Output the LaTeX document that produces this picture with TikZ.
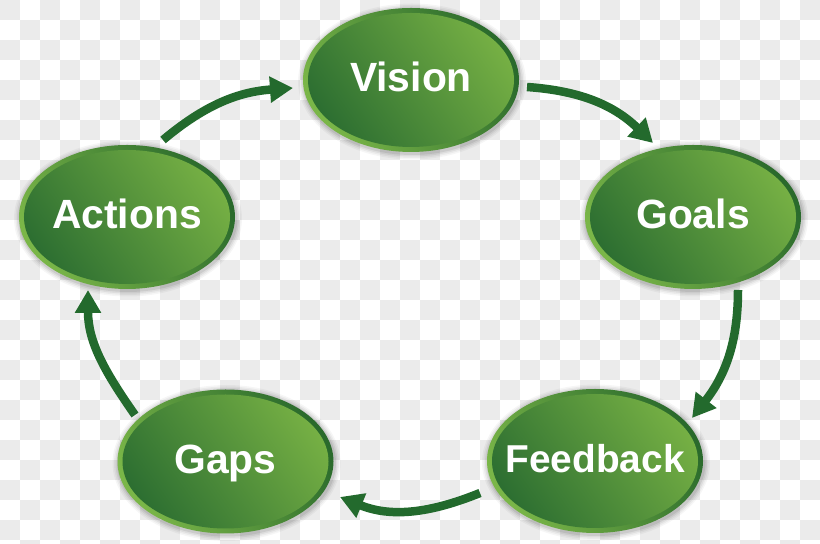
\documentclass[tikz,border=0pt]{standalone}
\usepackage{fontspec}
\setmainfont{Liberation Sans}
\usetikzlibrary{arrows.meta,shapes.geometric}
\definecolor{chk}{HTML}{EBEBEB}
\definecolor{indark}{HTML}{2C6E31}
\definecolor{inlight}{HTML}{76B044}
\definecolor{rimlight}{HTML}{7AB648}
\definecolor{rimdark}{HTML}{2A6A2C}
\definecolor{arrowgreen}{HTML}{236A2D}
\tikzset{
  bubble/.style={ellipse, inner sep=0pt, minimum width=216bp, minimum height=144bp,
    top color=rimdark, bottom color=rimlight, shading angle=-60,
    text=white, font=\bfseries\fontsize{41}{41}\selectfont,
    text height=29.4pt, text depth=6pt,
    path picture={\shade[top color=inlight, bottom color=indark, shading angle=-55]
      (path picture bounding box.center) ellipse (103bp and 67bp);}},
  arr/.style={line width=8.5bp, draw=arrowgreen, -{Triangle[length=23bp,width=25bp]}}
}
\newcommand\mybubble[4][]{%
  \foreach \s/\o in {6/0.035,4.5/0.045,3/0.06,1.5/0.08}{%
    \fill[black,opacity=\o] ([shift={(1,-1.5)}]#3) ellipse ({108+\s} and {72+\s});}
  \node[bubble,#1] (#2) at (#3) {\makebox[0pt]{#4}};
}
\begin{document}
\begin{tikzpicture}[x=1bp,y=1bp]
\useasboundingbox (0,0) rectangle (820,544);
\begin{scope}
  \clip (0,0) rectangle (820,544);
  \fill[white] (0,0) rectangle (820,544);
  \foreach \i in {0,...,40}{\foreach \j in {0,...,27}{%
    \pgfmathtruncatemacro\pp{mod(\i+\j,2)}%
    \ifnum\pp=0 \fill[chk] (20*\i,544-20*\j) rectangle ++(20,-20);\fi
  }}
\end{scope}
\mybubble{vis}{411,464}{Vision}
\mybubble{act}{127,327}{Actions}
\mybubble{goa}{693,327}{Goals}
\mybubble{gap}{225.5,82.5}{Gaps}
\mybubble[font=\bfseries\fontsize{39}{39}\selectfont]{fee}{595,83}{Feedback}
\draw[arr] ([shift={(36,77)}]act.center) to[out=40,in=184] ([shift={(-118,-8)}]vis.center);
\draw[arr] ([shift={(116,-7)}]vis.center) to[out=-4,in=136] ([shift={(-40,74)}]goa.center);
\draw[arr] ([shift={(45,-73)}]goa.center) to[out=-90,in=52] ([shift={(97,43)}]fee.center);
\draw[arr] ([shift={(-115,-32)}]fee.center) to[out=-158,in=-22] ([shift={(114.5,-35.5)}]gap.center);
\draw[arr] ([shift={(-90.5,46.5)}]gap.center) to[out=125,in=-90] ([shift={(-39,-73)}]act.center);
\end{tikzpicture}
\end{document}
